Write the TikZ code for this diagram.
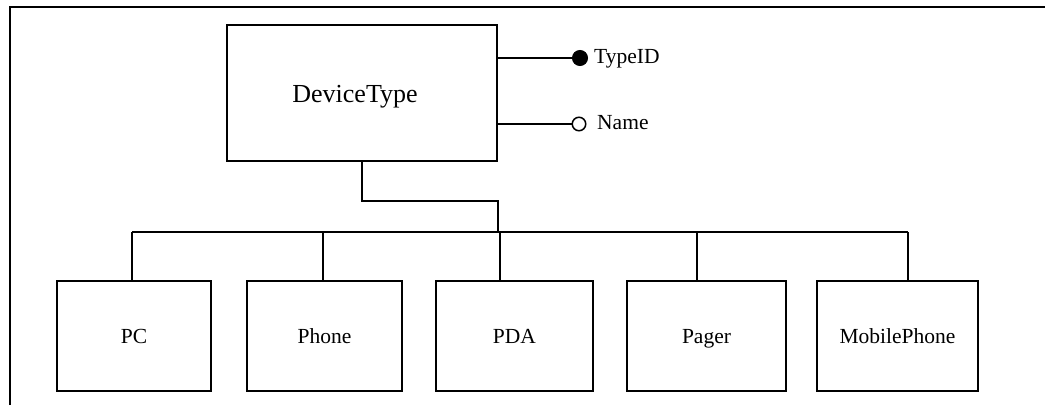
\documentclass[tikz,border=0pt]{standalone}
\usepackage{fontspec}
\setmainfont{Liberation Serif}
\begin{document}
\begin{tikzpicture}[x=1pt,y=-1pt,
  entity/.style={draw, line width=1.4pt, rectangle, inner sep=0pt,
    minimum height=110pt, text height=14pt, text depth=0pt,
    font=\fontsize{21.5}{24}\selectfont},
  link/.style={line width=1.4pt},
  attr/.style={anchor=base west, inner sep=0pt, font=\fontsize{21.5}{24}\selectfont},
  keydot/.style={circle, fill=black, draw=black, line width=1pt, minimum size=15pt, inner sep=0pt},
  plaindot/.style={circle, fill=white, draw=black, line width=1.5pt, minimum size=13.5pt, inner sep=0pt}]
\useasboundingbox (0,0) rectangle (1045,405);

% frame (top and left sides)
\coordinate (fl) at (10,405);
\coordinate (fc) at (10,7);
\coordinate (fr) at (1046,7);
\draw[line width=2.8pt, line join=miter] (fl) -- (fc) -- (fr);

% supertype
\node[draw, line width=1.4pt, rectangle, inner sep=0pt,
  minimum width=270pt, minimum height=136pt] (dt) at (362,93) {};
\node[inner sep=0pt, text height=17pt, text depth=0pt,
  font=\fontsize{26}{30}\selectfont] (dtl) at (355,93.5) {DeviceType};

% attributes
\node[keydot] (kid) at (580,58) {};
\node[plaindot] (kname) at (579,124) {};
\draw[link] (dt.east |- kid) -- (kid);
\draw[link] (dt.east |- kname) -- (kname);
\node[attr] (tid) at (594,63) {TypeID};
\node[attr] (nm) at (597,129) {Name};

% subtypes
\node[entity, minimum width=154pt] (pc) at (134,336) {PC};
\node[entity, minimum width=155pt] (phone) at (324.5,336) {Phone};
\node[entity, minimum width=157pt] (pda) at (514.5,336) {PDA};
\node[entity, minimum width=159pt] (pager) at (706.5,336) {Pager};
\node[entity, minimum width=161pt] (mobile) at (897.5,336) {MobilePhone};

% hierarchy connectors
\coordinate (j1) at (498,201);
\coordinate (j2) at (498,232);
\coordinate (b1) at (132,232);
\coordinate (b2) at (323,232);
\coordinate (b3) at (500,232);
\coordinate (b4) at (697,232);
\coordinate (b5) at (908,232);
\draw[link] (dt.south) |- (j1) -- (j2);
\draw[link] (b1) -- (b5);
\draw[link] (b1) -- (b1 |- pc.north);
\draw[link] (b2) -- (b2 |- phone.north);
\draw[link] (b3) -- (b3 |- pda.north);
\draw[link] (b4) -- (b4 |- pager.north);
\draw[link] (b5) -- (b5 |- mobile.north);
\end{tikzpicture}
\end{document}
